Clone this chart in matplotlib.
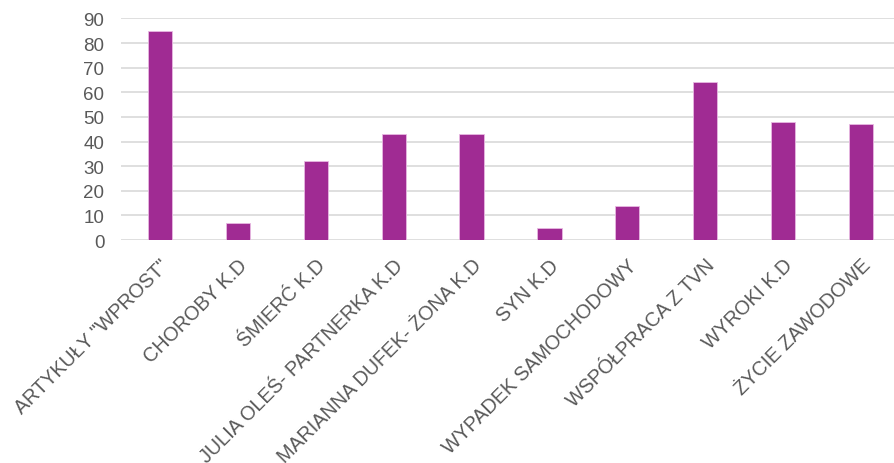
import matplotlib
matplotlib.use("Agg")
import matplotlib.pyplot as plt

categories = ['ARTYKUŁY "WPROST"', 'CHOROBY K.D', 'ŚMIERĆ K.D', 'JULIA OLEŚ- PARTNERKA K.D',
              'MARIANNA DUFEK- ŻONA K.D', 'SYN K.D', 'WYPADEK SAMOCHODOWY',
              'WSPÓŁPRACA Z TVN', 'WYROKI K.D', 'ŻYCIE ZAWODOWE']
values = [85, 7, 32, 43, 43, 5, 14, 64, 48, 47]
yticks = [0, 10, 20, 30, 40, 50, 60, 70, 80, 90]

plt.rcParams['font.family'] = ['Liberation Sans', 'DejaVu Sans']

fig = plt.figure(figsize=(8.94, 4.64), dpi=100)
ax = fig.add_axes([0.1353, 0.4806, 0.8714, 0.4774])

x = list(range(len(categories)))
ax.bar(x, values, width=0.31, color='#A02B93', edgecolor='#E8B8E2', linewidth=0.6, zorder=3)

ax.set_xlim(-0.5, len(categories) - 0.5)
ax.set_ylim(0, 90)
ax.set_yticks(yticks)
ax.set_yticklabels([str(v) for v in yticks], fontsize=13.5, color='#595959')
ax.set_xticks(x)
ax.set_xticklabels(categories, rotation=45, ha='right', va='top', rotation_mode='anchor',
                   fontsize=14.2, color='#595959')
ax.tick_params(axis='both', length=0)
ax.tick_params(axis='y', pad=12)
ax.tick_params(axis='x', pad=11)

ax.grid(axis='y', color='#D9D9D9', linewidth=1.2, zorder=0)
for s in ax.spines.values():
    s.set_visible(False)

fig.savefig('out.png', dpi=100)
